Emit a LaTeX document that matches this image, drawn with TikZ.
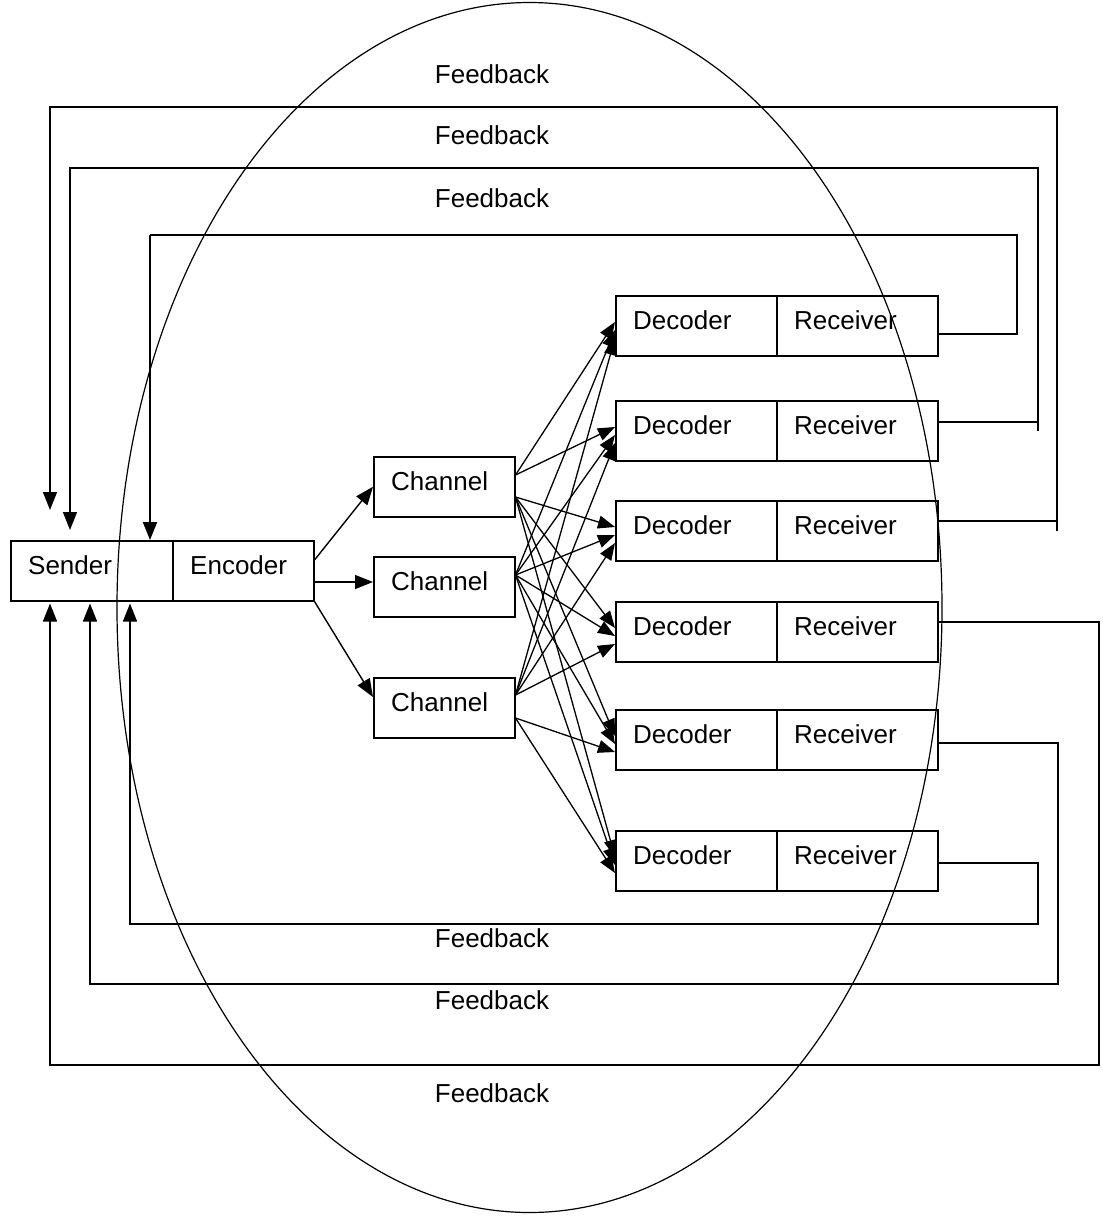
\documentclass[tikz,border=0pt]{standalone}
\usepackage{fontspec}
\setmainfont{Liberation Sans}
\usetikzlibrary{arrows.meta,calc}
\begin{document}
\begin{tikzpicture}[x=1pt,y=-1pt,
  box/.style={draw,line width=1.5pt,minimum height=60pt,inner sep=0pt,anchor=north west},
  lbl/.style={anchor=base west,inner sep=0pt,font=\fontsize{26}{30}\selectfont},
  fbl/.style={inner sep=0pt,font=\fontsize{26}{30}\selectfont},
  con/.style={line width=1.4pt},
  arr/.style={con,-{Triangle[length=18pt,width=14pt]}},
  fan/.style={line width=1.3pt,-{Triangle[length=17pt,width=13pt]}},
]
\useasboundingbox (0,0) rectangle (1103,1216);

% big enclosing ellipse
\draw[line width=1.2pt] (529.5,607.5) ellipse [x radius=412.5pt, y radius=605pt];

% sender / encoder
\node[box,minimum width=162pt] (snd) at (10,540) {};
\node[box,minimum width=141pt] (enc) at (172,540) {};
\node[lbl] (sndt) at ($(snd.north west)+(18,34)$) {Sender};
\node[lbl] (enct) at ($(enc.north west)+(18,34)$) {Encoder};

% channels
\foreach \i/\y in {1/456,2/556,3/677}{
  \node[box,minimum width=141pt] (ch\i) at (373,\y) {};
  \node[lbl] (ch\i t) at ($(ch\i.north west)+(18,34)$) {Channel};
}

% decoder / receiver pairs
\foreach \i/\y in {1/295,2/400,3/500,4/601,5/709,6/830}{
  \node[box,minimum width=161pt] (dec\i) at (615,\y) {};
  \node[box,minimum width=161pt] (rec\i) at (776,\y) {};
  \node[lbl] (dec\i t) at ($(dec\i.north west)+(18,34)$) {Decoder};
  \node[lbl] (rec\i t) at ($(rec\i.north west)+(18,34)$) {Receiver};
}

% encoder to channels
\draw[arr] ($(enc.north east)+(0,20)$) -- (ch1.west);
\draw[arr] ($(enc.north east)+(0,42)$) -- ($(ch2.north west)+(0,26)$);
\draw[arr] (enc.south east) -- ($(ch3.north west)+(0,20)$);

% channels to decoders
\coordinate (c1a) at ($(ch1.north east)+(0,19)$);
\coordinate (c1b) at ($(ch1.north east)+(0,41)$);
\coordinate (c2a) at ($(ch2.north east)+(0,19)$);
\coordinate (c3a) at ($(ch3.north east)+(0,18)$);
\coordinate (c3b) at ($(ch3.north east)+(0,41)$);
\foreach \d in {1,2} \draw[fan] (c1a) -- ($(dec\d.north west)+(0,27)$);
\foreach \d in {3,...,6} \draw[fan] (c1b) -- ($(dec\d.north west)+(0,27)$);
\foreach \d in {1,...,6} \draw[fan] (c2a) -- ($(dec\d.north west)+(0,35)$);
\foreach \d in {1,...,4} \draw[fan] (c3a) -- ($(dec\d.north west)+(0,43)$);
\foreach \d in {5,6} \draw[fan] (c3b) -- ($(dec\d.north west)+(0,43)$);

% feedback loops over the top
\coordinate (a1) at (1057,521); \coordinate (a2) at (1057,107); \coordinate (a3) at (50,107);
\draw[con] ($(rec3.north east)+(0,21)$) -- (a1) -- ++(0,10);
\draw[arr] (a1) -- (a2) -- (a3) -- ($(snd.north west)+(40,-30)$);

\coordinate (b1) at (1038,422); \coordinate (b2) at (1038,168); \coordinate (b3) at (70,168);
\draw[con] ($(rec2.north east)+(0,22)$) -- (b1) -- ++(0,9);
\draw[arr] (b1) -- (b2) -- (b3) -- ($(snd.north west)+(60,-10)$);

\coordinate (e1) at (1017,334); \coordinate (e2) at (1017,235); \coordinate (e3) at (150,235);
\draw[con] ($(rec1.north east)+(0,39)$) -- (e1) -- (e2) -- (e3);
\draw[arr,line width=2pt] (e3) -- ($(snd.north west)+(140,0)$);

% feedback loops underneath
\coordinate (d1) at (1099,622); \coordinate (d2) at (1099,1065); \coordinate (d3) at (50,1065);
\draw[arr] ($(rec4.north east)+(0,21)$) -- (d1) -- (d2) -- (d3) -- ($(snd.south west)+(40,2)$);

\coordinate (f1) at (1058,743); \coordinate (f2) at (1058,984); \coordinate (f3) at (90,984);
\draw[arr] ($(rec5.north east)+(0,34)$) -- (f1) -- (f2) -- (f3) -- ($(snd.south west)+(80,2)$);

\coordinate (g1) at (1038,863); \coordinate (g2) at (1038,924); \coordinate (g3) at (130,924);
\draw[arr] ($(rec6.north east)+(0,33)$) -- (g1) -- (g2) -- (g3) -- ($(snd.south west)+(120,2)$);

% loop labels
\foreach \n/\y in {1/74,2/135,3/198,4/938,5/1000,6/1093}
  \node[fbl] (fb\n) at (492,\y) {Feedback};
\end{tikzpicture}
\end{document}
